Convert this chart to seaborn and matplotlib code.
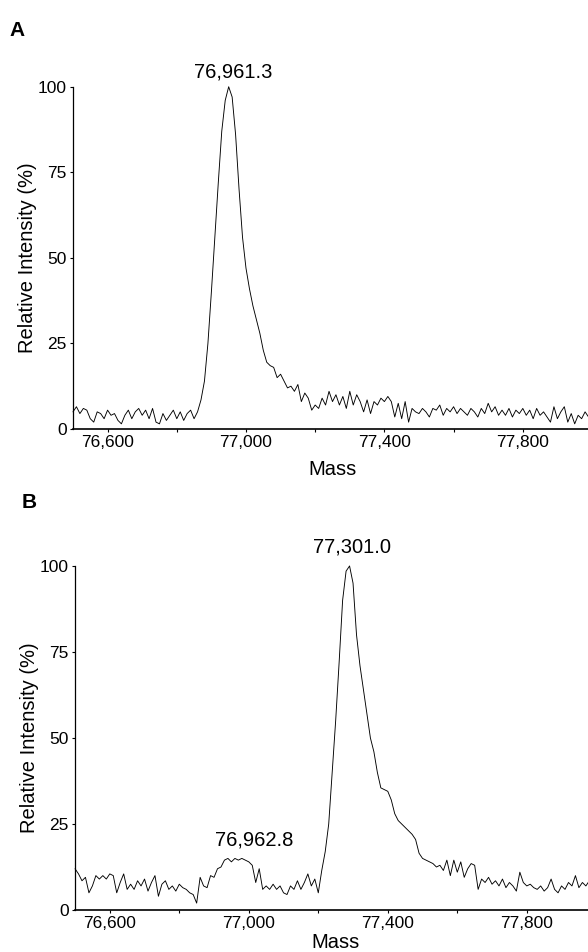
import numpy as np
import pandas as pd
import matplotlib
matplotlib.use("Agg")
import matplotlib.pyplot as plt
from matplotlib.ticker import MultipleLocator, FuncFormatter
import seaborn as sns

# mass axis, 10 Da steps from 76,500 to 78,000
mass = list(range(76500, 78001, 10))

# panel A - relative intensity (%)
intensity_a = [
    5, 6.5, 4.5, 6, 5.5, 3, 2, 5, 4.5, 3,            # 76500-76590
    5.5, 4, 4.5, 2.5, 1.5, 4, 5.5, 3, 5, 6,          # 76600-76690
    4, 5.5, 3, 6, 2, 1.5, 4.5, 2.5, 4, 5.5,          # 76700-76790
    3, 5, 2.5, 4.5, 5.5, 3, 5, 8.5, 14, 25,          # 76800-76890
    40, 56, 72, 87, 96, 100, 97, 86, 70, 56,         # 76900-76990
    47, 41, 36, 32, 28, 23, 19.5, 18.5, 18, 15,      # 77000-77090
    16, 14, 12, 12.5, 11, 13, 8, 10.5, 9, 5.5,       # 77100-77190
    7, 6, 9, 7, 11, 8, 10, 7, 9.5, 6,                # 77200-77290
    11, 7, 10, 8, 5, 8.5, 4.5, 8, 7, 9,              # 77300-77390
    8, 9.5, 8, 3.5, 7.5, 3, 8, 2, 6, 5,              # 77400-77490
    4.5, 6, 5, 3.5, 6, 5.5, 7, 4, 6, 5,              # 77500-77590
    6.5, 4.5, 6, 5, 4, 6, 5, 3.5, 6, 4.5,            # 77600-77690
    7.5, 5, 6.5, 4, 5.5, 4, 6, 3.5, 5.5, 4.5,        # 77700-77790
    6, 4, 5.5, 3, 6, 4, 5, 3.5, 2, 6.5,              # 77800-77890
    3, 5, 6.5, 2, 4.5, 1.5, 4, 3, 5, 3.5,            # 77900-77990
    4,                                               # 78000
]

# panel B
intensity_b = [
    12, 10.5, 8.5, 9.5, 5, 7, 10, 9, 10, 9,          # 76500-76590
    10.5, 10, 5, 8, 10.5, 6, 7.5, 6, 8.5, 7,         # 76600-76690
    9, 5.5, 8, 10, 4, 7.5, 8.5, 6, 7, 5.5,           # 76700-76790
    7.5, 6.5, 6, 5, 4.5, 2, 9.5, 7, 6.5, 10,         # 76800-76890
    9.5, 12, 12.5, 14.5, 15, 14, 15, 14.5, 15, 14.5, # 76900-76990
    14, 13, 8, 12, 6, 7, 6, 7.5, 6, 7,               # 77000-77090
    5, 4.5, 7, 6, 8.5, 6, 8, 10.5, 7, 9,             # 77100-77190
    5, 11.5, 17, 25, 40, 55, 72, 90, 98.5, 100,      # 77200-77290
    95, 80, 71, 64, 57, 50, 46, 40, 35.5, 35,        # 77300-77390
    34.5, 32, 28, 26, 25, 24, 23, 22, 20.5, 16.5,    # 77400-77490
    15, 14.5, 14, 13.5, 12.5, 13, 11.5, 14.5, 10, 14.5,  # 77500-77590
    11, 14, 9.5, 12, 13.5, 13, 6, 9, 8, 9.5,         # 77600-77690
    7.5, 8.5, 7, 9, 6.5, 8, 7, 5.5, 11, 8,           # 77700-77790
    7, 7.5, 6.5, 6, 7, 5.5, 6.5, 9, 6, 5,            # 77800-77890
    7, 6, 8, 7, 10, 6.5, 8, 7, 8.5, 7,               # 77900-77990
    7.5,                                             # 78000
]

# peak annotations: (text, x, y) in data units
labels_a = [("76,961.3", 76962, 104.3)]
labels_b = [("77,301.0", 77297, 105.5), ("76,962.8", 77015, 20.3)]

yticks = [0, 25, 50, 75, 100]

sns.set_style("ticks")
plt.rcParams["font.family"] = ["Liberation Sans", "DejaVu Sans"]
plt.rcParams["text.color"] = "black"
plt.rcParams["axes.labelcolor"] = "black"
plt.rcParams["xtick.color"] = "black"
plt.rcParams["ytick.color"] = "black"
plt.rcParams["axes.edgecolor"] = "black"

fig = plt.figure(figsize=(5.88, 9.52), dpi=100)
ax_a = fig.add_axes([0.1241, 0.5494, 0.8827, 0.3595])
ax_b = fig.add_axes([0.1276, 0.0441, 0.8865, 0.3614])


def style_axis(ax, yvals, labels, xlab_y):
    df = pd.DataFrame({"Mass": mass, "Intensity": yvals})
    sns.lineplot(data=df, x="Mass", y="Intensity", ax=ax, color="black",
                 linewidth=0.65, estimator=None, sort=False)
    for ln in ax.lines:
        ln.set_clip_on(False)
    ax.set_xlim(76500, 78000)
    ax.set_ylim(0, 100)
    ax.set_yticks(yticks)
    ax.xaxis.set_minor_locator(MultipleLocator(200))
    ax.set_xticks([76600, 77000, 77400, 77800])
    ax.xaxis.set_major_formatter(FuncFormatter(lambda v, p: f"{int(v):,}"))
    ax.tick_params(axis="both", labelsize=12.5, length=2.5, width=0.8,
                   pad=2, colors="black")
    ax.tick_params(axis="x", which="minor", length=2.5, width=0.8)
    sns.despine(ax=ax)
    ax.spines["left"].set_linewidth(0.9)
    ax.spines["bottom"].set_linewidth(1.2)
    ax.set_xlabel("Mass", fontsize=14.5)
    ax.set_ylabel("Relative Intensity (%)", fontsize=14.5)
    ax.xaxis.set_label_coords(0.5, xlab_y)
    ax.yaxis.set_label_coords(-0.07, 0.5)
    for txt, x, y in labels:
        ax.text(x, y, txt, ha="center", va="center", fontsize=14.5,
                clip_on=False)


style_axis(ax_a, intensity_a, labels_a, -0.09)
style_axis(ax_b, intensity_b, labels_b, -0.066)

fig.text(17 / 588, 1 - 30 / 952, "A", fontsize=15, fontweight="bold",
         ha="center", va="center")
fig.text(29 / 588, 1 - 503 / 952, "B", fontsize=15, fontweight="bold",
         ha="center", va="center")

fig.savefig("out.png", dpi=100)
